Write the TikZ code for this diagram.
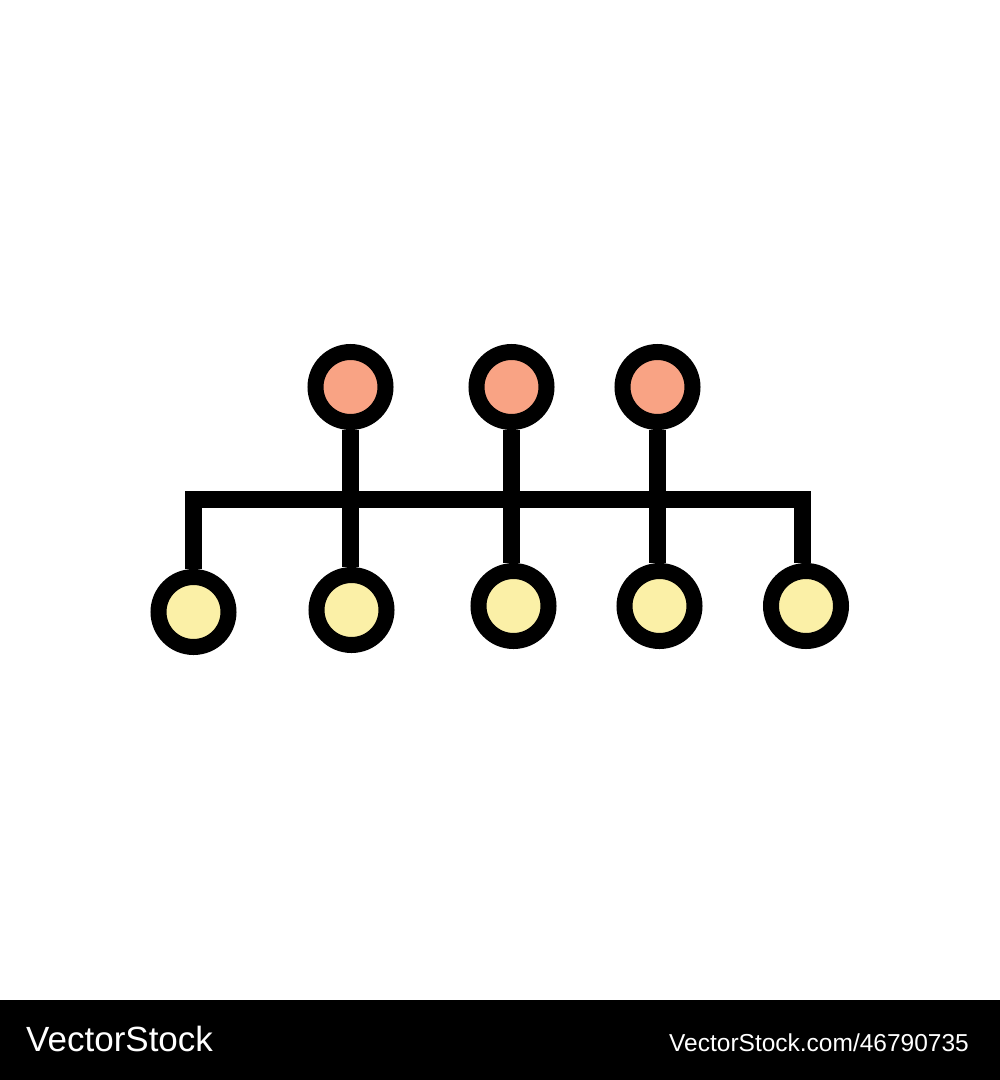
\documentclass[tikz,border=0pt]{standalone}
\usepackage{fontspec}
\setmainfont{Liberation Sans}
\definecolor{salmon}{RGB}{249,163,132}
\definecolor{paleyellow}{RGB}{251,240,167}
\tikzset{
  dot/.style={circle, draw=black, line width=16pt, minimum size=70pt, inner sep=0pt},
  topdot/.style={dot, fill=salmon},
  botdot/.style={dot, fill=paleyellow},
  wire/.style={draw=black, line width=17pt, line join=miter, line cap=butt},
  foot/.style={text=white, inner sep=0pt, anchor=base west}
}
\begin{document}
\begin{tikzpicture}[x=1pt,y=-1pt]
\useasboundingbox (0,0) rectangle (1000,1080);
\fill[white] (0,0) rectangle (1000,1000);
\fill[black] (0,1000) rectangle (1000,1080);

% nodes
\node[topdot] (t1) at (350.5,387) {};
\node[topdot] (t2) at (511.5,387) {};
\node[topdot] (t3) at (657.5,387) {};
\node[botdot] (b1) at (193.5,612) {};
\node[botdot] (b2) at (351.5,610) {};
\node[botdot] (b3) at (513.5,606) {};
\node[botdot] (b4) at (659.5,606) {};
\node[botdot] (b5) at (806,606) {};

\coordinate (barL) at (193.5,499);
\coordinate (barR) at (802,499);

% connectors
\draw[wire] (b1.north) -- (barL) -- (barR) -- (barR |- b5.north);
\draw[wire] (t1.south) -- (t1.south |- b2.north);
\draw[wire] (t2.south) -- (t2.south |- b3.north);
\draw[wire] (t3.south) -- (t3.south |- b4.north);

% footer
\node[foot, font=\fontsize{35}{42}\selectfont] (brand) at (26,1051) {VectorStock};
\node[foot, font=\fontsize{24.5}{29}\selectfont] (url) at (669,1051) {VectorStock.com/46790735};
\end{tikzpicture}
\end{document}
